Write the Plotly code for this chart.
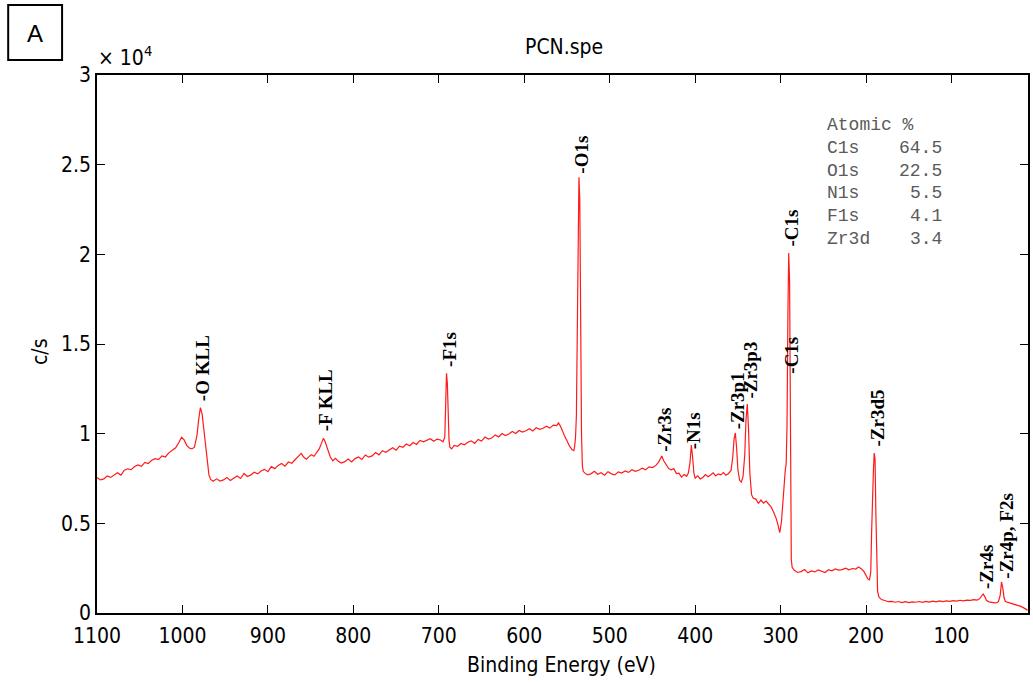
import plotly.graph_objects as go

# XPS survey spectrum of PCN.spe: binding energy (eV) and intensity (c/s),
# split into regions running from high to low binding energy.

# O KLL / F KLL Auger region
auger_ev = [1100, 1096, 1092, 1088, 1084, 1080, 1076, 1072, 1068, 1064, 1060, 1056, 1052,
            1048, 1044, 1040, 1036, 1032, 1028, 1024, 1020, 1016, 1012, 1008, 1004,
            1001, 998, 995, 992, 989, 986, 983,
            981, 979, 977, 975, 973, 971, 969, 967,
            964,
            960, 956, 952, 948, 944, 940, 936, 932, 928, 924, 920, 916, 912, 908, 904, 900,
            896, 892, 888, 884, 880, 876, 872, 868, 864,
            861, 858, 855, 852, 849, 846, 843, 840, 837,
            835, 833,
            830, 827, 824, 821]
auger_cps = [7550, 7420, 7480, 7640, 7560, 7700, 7820, 7690, 7960, 8040, 7990, 8170, 8260,
             8180, 8400, 8330, 8520, 8610, 8550, 8760, 8700, 8930, 9050, 9210, 9520,
             9800, 9650, 9350, 9200, 9150, 9250, 9900,
             10800, 11450, 11100, 10200, 9300, 8400, 7700, 7450,
             7350,
             7480, 7360, 7420, 7560, 7390, 7520, 7640, 7500, 7780, 7610, 7700, 7850, 7760, 7920, 8010, 7880,
             8160, 8050, 8230, 8340, 8190, 8420, 8350, 8560, 8780,
             8900, 8680, 8580, 8720, 8820, 8740, 8960, 9150, 9500,
             9750, 9550,
             9100, 8700, 8480, 8620]

# F1s region
fluorine_ev = [818, 814, 810, 806, 802, 798, 794, 790, 786, 782, 778, 774, 770, 766, 762, 758,
               754, 750, 746, 742, 738, 734, 730, 726, 722, 718, 714, 710, 706, 702, 698,
               695, 693, 692, 691, 690, 689, 688, 687, 685, 682,
               678, 674, 670, 666, 662, 658, 654, 650, 646, 642, 638, 634, 630, 626, 622,
               618, 614, 610, 606, 602, 598, 594, 590, 586, 582, 578, 574, 570, 566, 562,
               560, 558, 556, 553, 550, 547, 544, 542]
fluorine_cps = [8480, 8360, 8440, 8580, 8420, 8610, 8700, 8560, 8810, 8690, 8760, 8950, 8820, 9050, 8960, 9100,
                9220, 9080, 9300, 9240, 9420, 9330, 9510, 9400, 9620, 9550, 9640, 9720, 9580, 9700, 9650,
                9550, 9800, 11500, 13370, 12800, 10800, 9600, 9250, 9150, 9350,
                9300, 9450, 9380, 9520, 9600, 9460, 9680, 9590, 9810, 9700, 9760, 9930, 9820, 10010, 9900,
                9980, 10120, 10010, 10180, 10090, 10160, 10280, 10150, 10330, 10240, 10300, 10420, 10310, 10480, 10450,
                10600, 10450, 10200, 9900, 9600, 9300, 9100, 9050]

# O1s region
oxygen_ev = [541, 540, 539, 538, 537, 536, 535, 534, 533, 532, 531]
oxygen_cps = [9300, 9800, 11000, 14500, 20500, 24300, 23000, 16000, 10000, 8200, 7900]

# Zr3s, N1s, Zr3p region
zr3p_ev = [529, 526, 522, 518, 514, 510, 506, 502, 498, 494, 490, 486, 482, 478, 474, 470,
           466, 462, 458, 454, 450, 446,
           443, 441, 439, 437, 434, 431, 428, 425, 422, 419, 416, 413, 410, 408, 406, 404.5,
           403, 401.5, 400,
           397, 394, 391, 388, 385, 382, 379, 376, 373, 370, 367, 364, 361, 358, 356, 354.5,
           353, 351.5, 350, 348, 346, 344, 342, 340.5, 339, 337.5, 336, 334, 332,
           329, 326, 323, 320, 317, 314, 311, 308, 305, 303, 301, 299, 297, 295.5, 294.5, 293.5]
zr3p_cps = [7800, 7700, 7760, 7900, 7740, 7820, 7680, 7880, 7760, 7700, 7870, 7800, 7920, 7840, 7990, 7900,
            7960, 8080, 7980, 8150, 8110, 8230,
            8400, 8600, 8750, 8500, 8250, 8050, 7980, 8050, 7780, 7800, 7580, 7720, 7620, 7800, 8400, 9370,
            8700, 7800, 7520,
            7650, 7480, 7560, 7720, 7600, 7700, 7820, 7640, 7760, 7700, 7830, 7680, 7780, 7950, 8700, 9700,
            10040, 9200, 8000, 7400, 7300, 7600, 8800, 10800, 11650, 10200, 7800, 6600, 6400,
            6350, 6120, 6300, 6130, 6240, 6080, 5900, 5600, 5250, 4900, 4480, 5100, 6500, 7700, 8000, 8300]

# C1s, Zr3d, Zr4s, Zr4p region
zr3d_ev = [292.5, 291.5, 290.5, 289.5, 288.5, 287.5, 286.5,
           284, 280, 276, 272, 268, 264, 260, 256, 252, 248, 244, 240, 236, 232, 228, 224, 220, 216, 212,
           209, 206, 203, 200, 198, 196, 194.5, 193.5, 192.5, 191.5, 190.5, 189.5, 188.5, 187.5, 186.5,
           185, 182,
           178, 174, 170, 166, 162, 158, 154, 150, 146, 142, 138, 134, 130, 126, 122, 118, 114, 110,
           106, 102, 98, 94, 90, 86, 82, 78, 74, 70,
           67, 65, 63, 61, 59, 56, 53, 50, 47, 45, 43, 41.5, 40, 38.5, 37, 34, 31, 28, 25, 22, 19, 16,
           13, 11]
zr3d_cps = [10500, 16500, 20080, 18500, 9500, 3000, 2550,
            2380, 2260, 2310, 2420, 2240, 2350, 2290, 2400, 2330, 2260, 2410, 2350, 2460, 2390, 2420, 2500, 2410, 2480, 2450,
            2560, 2480, 2350, 2100, 1900, 1850, 2300, 4500, 7400, 7800, 8920, 8600, 5500, 2500, 1200,
            900, 750,
            700, 630, 650, 600, 640, 580, 630, 580, 620, 600, 640, 590, 650, 610, 660, 620, 680, 630,
            670, 650, 690, 660, 710, 680, 720, 700, 740, 720,
            800, 950, 1060, 900, 700, 620, 580, 560, 570, 650, 1000, 1730, 1400, 850, 640, 600, 560, 520, 480, 400, 370, 300,
            200, 160]

# Peak identification labels and the intensity at which each one starts
peak_labels = ["-O KLL", "-F KLL", "-F1s", "-O1s", "-Zr3s", "-N1s", "-Zr3p1", "-Zr3p3",
               "-C1s", "-C1s", "-Zr3d5", "-Zr4s", "-Zr4p, F2s"]
peak_label_ev = [978, 835, 690, 535, 439, 404, 352.5, 338, 290, 290, 189.5, 62, 39]
peak_label_cps = [11770, 10100, 13660, 24430, 8920, 9090, 10200, 11880, 20360, 13270, 9200, 1280, 1840]

# Quantification table
atomic_elements = ["C1s", "O1s", "N1s", "F1s", "Zr3d"]
atomic_percent = ["64.5", "22.5", "5.5", "4.1", "3.4"]

# Axis ticks
x_tick_vals = [1100, 1000, 900, 800, 700, 600, 500, 400, 300, 200, 100]
x_tick_text = ["1100", "1000", "900", "800", "700", "600", "500", "400", "300", "200", "100"]
y_tick_vals = [0, 5000, 10000, 15000, 20000, 25000, 30000]
y_tick_text = ["0", "0.5", "1", "1.5", "2", "2.5", "3"]

energy = auger_ev + fluorine_ev + oxygen_ev + zr3p_ev + zr3d_ev
counts = auger_cps + fluorine_cps + oxygen_cps + zr3p_cps + zr3d_cps
assert len(energy) == len(counts)

W, H = 1033, 683
L, R, T, B = 97, 1030, 75, 613


def px(x):
    return (x - L) / (R - L)


def py(y):
    return (B - y) / (B - T)


SANS = "DejaVu Sans Condensed, Liberation Sans Narrow, Arial Narrow, Liberation Sans, Arial"
AXIS_FONT = dict(family=SANS, size=21, color="black")
LABEL_FONT = dict(family="Liberation Serif, Times New Roman, serif", size=19, color="black")
TABLE_FONT = dict(family="Courier New, Liberation Mono, monospace", size=18, color="#5a5a5a")

fig = go.Figure()
fig.add_trace(go.Scatter(x=energy, y=counts, mode="lines",
                         line=dict(color="#ff1a1a", width=1.2), showlegend=False,
                         hoverinfo="skip"))

annotations = []
for text, ev, cps in zip(peak_labels, peak_label_ev, peak_label_cps):
    annotations.append(dict(x=ev, y=cps, xref="x", yref="y", text="<b>%s</b>" % text,
                            textangle=-90, showarrow=False, xanchor="center", yanchor="bottom",
                            xshift=2, font=LABEL_FONT, borderpad=0))

# Atomic % table
annotations.append(dict(x=px(827), y=py(125), xref="paper", yref="paper", text="Atomic %",
                        showarrow=False, xanchor="left", yanchor="middle", font=TABLE_FONT))
for i, (el, pct) in enumerate(zip(atomic_elements, atomic_percent)):
    yy = py(148 + i * 22.7)
    annotations.append(dict(x=px(827), y=yy, xref="paper", yref="paper", text=el,
                            showarrow=False, xanchor="left", yanchor="middle", font=TABLE_FONT))
    annotations.append(dict(x=px(946), y=yy, xref="paper", yref="paper", text=pct,
                            showarrow=False, xanchor="right", yanchor="middle", font=TABLE_FONT))

# Title, exponent and axis titles
annotations.append(dict(x=px(565), y=py(47), xref="paper", yref="paper", text="PCN.spe",
                        showarrow=False, xanchor="center", yanchor="middle",
                        font=dict(family=SANS, size=21, color="black")))
annotations.append(dict(x=px(96), y=py(56), xref="paper", yref="paper", text="× 10<sup>4</sup>",
                        showarrow=False, xanchor="left", yanchor="middle", font=AXIS_FONT))
annotations.append(dict(x=px(562), y=py(665), xref="paper", yref="paper", text="Binding Energy (eV)",
                        showarrow=False, xanchor="center", yanchor="middle", font=AXIS_FONT))
annotations.append(dict(x=px(40), y=py(352), xref="paper", yref="paper", text="c/s", textangle=-90,
                        showarrow=False, xanchor="center", yanchor="middle", font=AXIS_FONT))
annotations.append(dict(x=px(35), y=py(33), xref="paper", yref="paper", text="A",
                        showarrow=False, xanchor="center", yanchor="middle",
                        font=dict(family="Liberation Sans, Arial", size=24, color="black")))

fig.add_shape(type="rect", xref="paper", yref="paper", x0=px(8), x1=px(62), y0=py(5), y1=py(60),
              line=dict(color="black", width=2), fillcolor="rgba(0,0,0,0)")

fig.update_layout(
    width=W, height=H,
    margin=dict(l=L, r=W - R, t=T, b=H - B),
    paper_bgcolor="white", plot_bgcolor="white",
    annotations=annotations,
    xaxis=dict(range=[1100, 10.5], tickvals=x_tick_vals, ticktext=x_tick_text,
               ticks="inside", ticklen=8, tickwidth=1.2, tickcolor="black",
               showline=True, linecolor="black", linewidth=1.5, mirror="ticks",
               showgrid=False, zeroline=False, tickfont=AXIS_FONT, ticklabelstandoff=3),
    yaxis=dict(range=[0, 30000], tickvals=y_tick_vals, ticktext=y_tick_text,
               ticks="inside", ticklen=8, tickwidth=1.2, tickcolor="black",
               showline=True, linecolor="black", linewidth=1.5, mirror="ticks",
               showgrid=False, zeroline=False, tickfont=AXIS_FONT),
)

fig.write_html("out.html")
